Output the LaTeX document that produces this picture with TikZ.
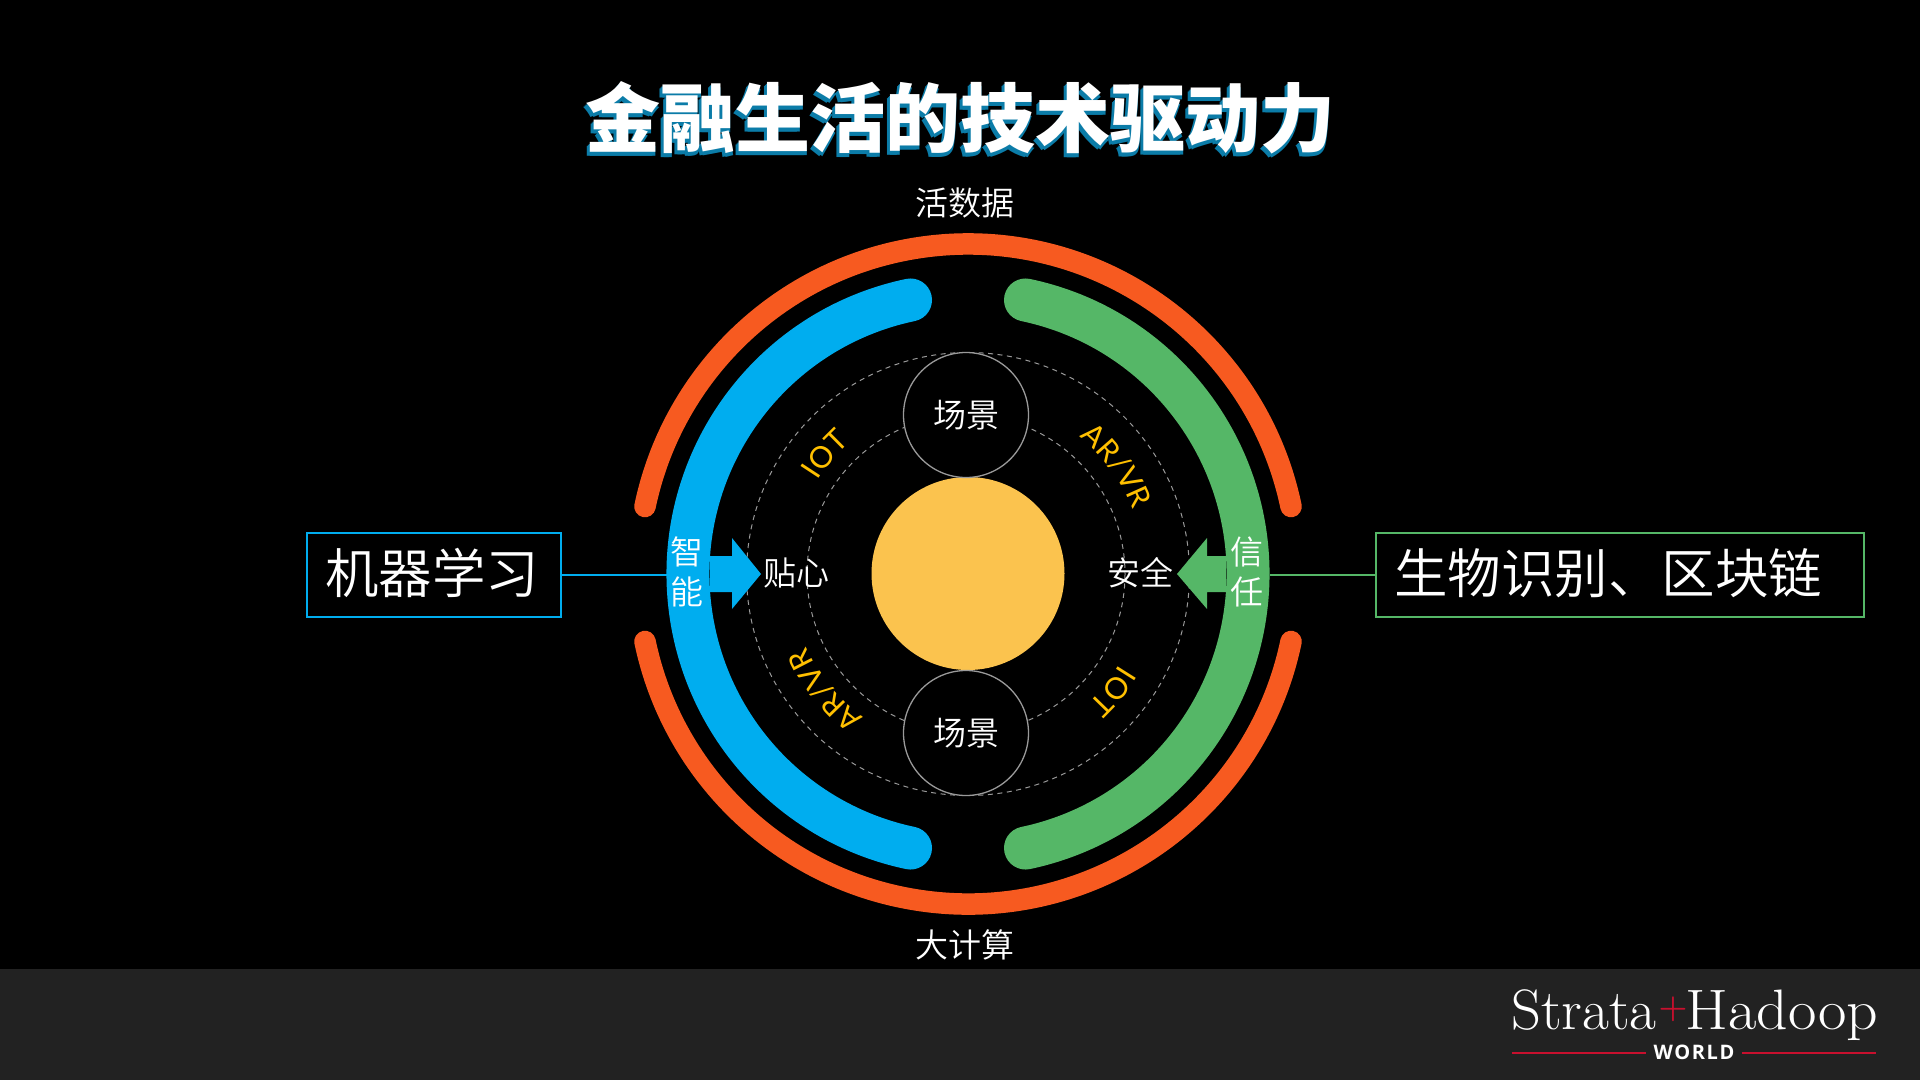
\documentclass[tikz,border=0pt]{standalone}
\usepackage{fontspec}
\usetikzlibrary{decorations.text,calc}
\newfontfamily\cjklight{Noto Sans CJK SC DemiLight}
\newfontfamily\cjkblack{Noto Sans CJK SC Black}
\newfontfamily\arcfont{Lato}
\newfontfamily\worldfont[LetterSpace=8]{Open Sans}
\definecolor{ringorange}{HTML}{F75A20}
\definecolor{ringblue}{HTML}{00ADEF}
\definecolor{ringgreen}{HTML}{55B767}
\definecolor{sun}{HTML}{FBC34E}
\definecolor{gold}{HTML}{FFC000}
\definecolor{footerbg}{HTML}{222222}
\definecolor{titleshadow}{HTML}{0B7CA8}
\definecolor{dashgray}{HTML}{9A9A9A}
\definecolor{logored}{HTML}{C8102E}
\tikzset{
  ringorangeline/.style={draw=ringorange,line width=21.5pt,line cap=round},
  ringblueline/.style={draw=ringblue,line width=43pt,line cap=round},
  ringgreenline/.style={draw=ringgreen,line width=43pt,line cap=round},
  dashring/.style={draw=dashgray,line width=1pt,dash pattern=on 5pt off 4.5pt},
  scenecircle/.style={circle,draw=dashgray,line width=1.3pt,fill=black,minimum size=125pt,inner sep=0pt,text=white,font=\cjklight\fontsize{33}{33}\selectfont},
  wlabel/.style={text=white,inner sep=0pt,font=\cjklight\fontsize{33}{40}\selectfont,align=center},
  boxlabel/.style={inner sep=0pt,text=white,font=\cjklight\fontsize{53.5}{54}\selectfont},
  titletext/.style={inner sep=0pt,font=\cjkblack\fontsize{75}{75}\selectfont},
  arclabel/.style={decorate,decoration={text along path,text align=center,
    text={|\arcfont\fontsize{30}{30}\selectfont\color{gold}|#1}}},
}
\begin{document}
\begin{tikzpicture}[x=1pt,y=-1pt]
\useasboundingbox (0,0) rectangle (1920,1080);
\fill[black] (0,0) rectangle (1920,1080);
\fill[footerbg] (0,969) rectangle (1920,1080);
% title
\foreach \dx/\dy in {-3/4,-2/3,-1/2,0/4}
  \node[titletext,text=titleshadow] at ($(960,118)+(\dx,\dy)$) {金融生活的技术驱动力};
\node[titletext,text=white] (title) at (960,118) {金融生活的技术驱动力};
\coordinate (C) at (968,574);
\coordinate (D) at (966,574);
% rings
\draw[ringorangeline] ($(C)+(-11.8:330)$) arc (-11.8:-168.2:330);
\draw[ringorangeline] ($(C)+(11.8:330)$) arc (11.8:168.2:330);
\draw[ringblueline] ($(C)+(-101.85:280)$) arc (-101.85:-258.15:280);
\draw[ringgreenline] ($(C)+(-78.15:280)$) arc (-78.15:78.15:280);
% dashed
\draw[dashring] (C) circle[radius=221.5];
\draw[dashring] (D) circle[radius=159];
% sun
\fill[sun] (968,573.5) circle[radius=96.5];
% scene circles
\node[scenecircle] (s1) at (966,415) {场景};
\node[scenecircle] (s2) at (966,733) {场景};
% arrows
\fill[ringblue] (710,556) -- (732,556) -- (732,538) -- (761,574) -- (732,609) -- (732,592) -- (710,592) -- cycle;
\fill[ringgreen] (1226,556) -- (1207,556) -- (1207,538) -- (1177,574) -- (1207,609) -- (1207,592) -- (1226,592) -- cycle;
% arc labels
\path[arclabel=IOT] ($(C)+(-165:177)$) arc (-165:-115:177);
\path[arclabel=AR/VR] ($(C)+(-66:177)$) arc (-66:-6:177);
\path[arclabel=AR/VR] ($(C)+(111:177)$) arc (111:171:177);
\path[arclabel=IOT] ($(C)+(14:177)$) arc (14:64:177);
% labels
\node[wlabel] (top) at (965,203) {活数据};
\node[wlabel] (bottom) at (965,945) {大计算};
\node[wlabel] (l1) at (796,573) {贴心};
\node[wlabel] (r1) at (1140,573) {安全};
\node[wlabel] (l2) at (687,572) {智\\能};
\node[wlabel] (r2) at (1247,572) {信\\任};
% boxes
\node[draw=ringblue,line width=1.7pt,minimum width=254pt,minimum height=84pt,inner sep=0pt] (boxL) at (434,575) {};
\node[boxlabel] at (432,573) {机器学习};
\node[draw=ringgreen,line width=1.7pt,minimum width=488pt,minimum height=84pt,inner sep=0pt] (boxR) at (1620,575) {};
\node[boxlabel,anchor=west] at (1394,573) {生物识别、区块链};
\coordinate (blueedge) at (667,575);
\coordinate (greenedge) at (1270,575);
\draw[ringblue,line width=1.7pt] (boxL.east) -- (blueedge);
\draw[ringgreen,line width=1.7pt] (greenedge) -- (boxR.west);
% logo
\node[anchor=base west,inner sep=0pt,text=white,font=\fontsize{57}{57}\selectfont,xscale=1.025] (strata) at (1511,1029) {Strata};
\node[inner sep=0pt,text=logored,font=\bfseries\fontsize{33}{33}\selectfont] (plus) at (1673,1009) {+};
\node[anchor=base west,inner sep=0pt,text=white,font=\fontsize{57}{57}\selectfont,xscale=1.085] (hadoop) at (1685,1029) {Hadoop};
\node[inner sep=0pt,text=white,font=\worldfont\bfseries\fontsize{20}{20}\selectfont] (world) at (1694,1052) {WORLD};
\coordinate (r1a) at (1512,1053); \coordinate (r1b) at (1646,1053);
\coordinate (r2a) at (1742,1053); \coordinate (r2b) at (1876,1053);
\draw[logored,line width=1.2pt] (r1a) -- (r1b);
\draw[logored,line width=1.2pt] (r2a) -- (r2b);
\end{tikzpicture}
\end{document}
